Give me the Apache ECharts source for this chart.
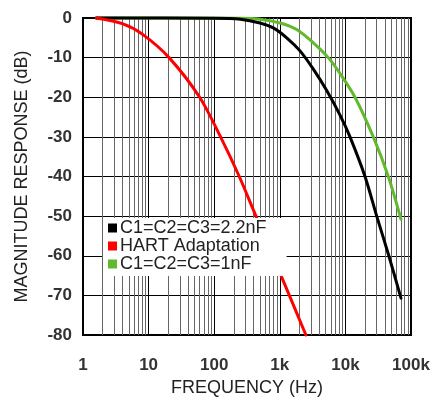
<!DOCTYPE html>
<html>
<head>
<meta charset="utf-8">
<script src="https://cdn.jsdelivr.net/npm/echarts@6/dist/echarts.min.js"></script>
<style>
html,body{margin:0;padding:0;background:#fff;}
#chart{width:433px;height:402px;}
</style>
</head>
<body>
<div id="chart"></div>
<script>
// ---- data ----
var xTickLabels = ['1', '10', '100', '1k', '10k', '100k'];
var xTickValues = [1, 10, 100, 1000, 10000, 100000];

var seriesNames = ['C1=C2=C3=2.2nF', 'HART Adaptation', 'C1=C2=C3=1nF'];

var freqBlack = [1.6, 100, 250, 499, 796, 1274, 2032, 3243, 5190, 8280, 11750, 19900, 30000, 45900, 70400];
var dbBlack   = [0, -0.05, -0.3, -1.25, -2.5, -5, -8.3, -12.9, -18.3, -24.5, -30, -40, -50, -60, -70.7];

var freqRed = [1.6, 4.07, 8.2, 20.5, 60, 125, 241, 433, 975, 2500];
var dbRed   = [0, -1.5, -4.2, -10, -20, -30, -40, -50, -63.8, -80];

var freqGreen = [1.6, 250, 500, 1007, 1809, 3243, 5490, 8280, 14000, 26600, 45100, 70400];
var dbGreen   = [0, -0.05, -0.3, -1.25, -2.9, -6.25, -10, -14, -20, -30, -40, -50.8];

// minor (log) grid positions: 2..9 times each decade
var minorMultipliers = [2, 3, 4, 5, 6, 7, 8, 9];
var minorDecades = [1, 10, 100, 1000, 10000];

function pairs(xs, ys) { return xs.map(function (x, i) { return [x, ys[i]]; }); }
var minorLines = [];
minorDecades.forEach(function (d) {
  minorMultipliers.forEach(function (m) { minorLines.push({ xAxis: d * m }); });
});

var FONT = '"Liberation Sans", Arial, sans-serif';
var chart = echarts.init(document.getElementById('chart'), null, { renderer: 'canvas' });

function curve(name, data, color) {
  return {
    name: name, type: 'line', data: data, showSymbol: false, symbol: 'none',
    smooth: 0.3, clip: false, z: 3,
    lineStyle: { color: color, width: 3, cap: 'round', join: 'round' },
    itemStyle: { color: color }
  };
}

chart.setOption({
  animation: false,
  backgroundColor: '#fff',
  textStyle: { fontFamily: FONT },
  grid: { left: 83, right: 22, top: 18, bottom: 64, show: true, borderColor: '#000', borderWidth: 2, backgroundColor: 'transparent' },
  legend: {
    data: seriesNames,
    orient: 'vertical', left: 103, top: 218,
    backgroundColor: '#fff',
    padding: [1, 20, 3, 5],
    itemWidth: 9, itemHeight: 9, itemGap: 0,
    icon: 'rect',
    textStyle: { fontSize: 18, color: '#222', fontFamily: FONT, lineHeight: 17, padding: [0, 0, 0, -2] }
  },
  xAxis: {
    type: 'log', logBase: 10, min: 1, max: 100000,
    axisLine: { show: false }, axisTick: { show: false },
    splitLine: { show: true, lineStyle: { color: '#000', width: 1 } },
    axisLabel: {
      fontSize: 17, fontWeight: 'bold', color: '#333', margin: 22, fontFamily: FONT,
      formatter: function (v) {
        var i = xTickValues.indexOf(Math.round(v));
        return i >= 0 ? xTickLabels[i] : '';
      }
    },
    name: 'FREQUENCY (Hz)', nameLocation: 'middle', nameGap: 44,
    nameTextStyle: { fontSize: 18, color: '#222', fontFamily: FONT }
  },
  yAxis: {
    type: 'value', min: -80, max: 0, interval: 10,
    axisLine: { show: false }, axisTick: { show: false },
    splitLine: { show: true, lineStyle: { color: '#000', width: 1 } },
    axisLabel: { fontSize: 17, fontWeight: 'bold', color: '#333', margin: 11, fontFamily: FONT },
    name: 'MAGNITUDE RESPONSE (dB)', nameLocation: 'middle', nameGap: 52,
    nameTextStyle: { fontSize: 18, color: '#222', fontFamily: FONT }
  },
  series: [
    {
      name: 'minor-grid', type: 'line', data: [], silent: true, z: 1,
      markLine: {
        silent: true, symbol: ['none', 'none'], z: 1, animation: false,
        label: { show: false },
        lineStyle: { color: '#666', width: 1, type: 'solid' },
        emphasis: { disabled: true },
        data: minorLines
      }
    },
    curve(seriesNames[2], pairs(freqGreen, dbGreen), '#62b92e'),
    curve(seriesNames[0], pairs(freqBlack, dbBlack), '#000000'),
    curve(seriesNames[1], pairs(freqRed, dbRed), '#ff0000')
  ]
});
</script>
</body>
</html>
